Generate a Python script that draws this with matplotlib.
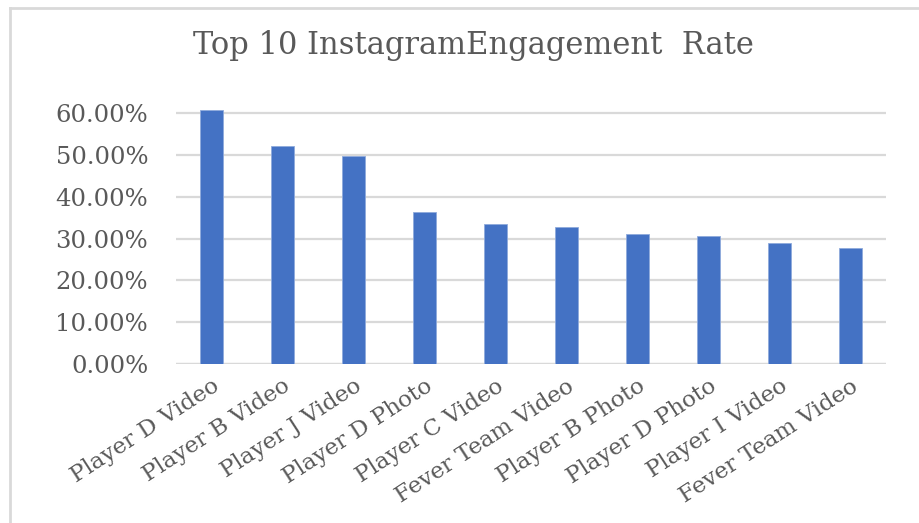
import matplotlib.pyplot as plt
from matplotlib.lines import Line2D
from matplotlib.ticker import PercentFormatter

# Datos
categorias = ['Player D Video', 'Player B Video', 'Player J Video', 'Player D Photo',
              'Player C Video', 'Fever Team Video', 'Player B Photo', 'Player D Photo',
              'Player I Video', 'Fever Team Video']
tasas = [0.608, 0.522, 0.498, 0.365, 0.336, 0.328, 0.311, 0.306, 0.289, 0.278]
ticks_y = [0.0, 0.1, 0.2, 0.3, 0.4, 0.5, 0.6]

gris = '#595959'
plt.rcParams['font.family'] = ['DejaVu Serif']

fig = plt.figure(figsize=(9.2, 5.23), dpi=100)
ax = fig.add_axes([176/920, 1 - 364/523, 710/920, 259/523])

x = list(range(len(categorias)))
ax.bar(x, tasas, width=0.32, color='#4472C4', edgecolor='#8FAADC', linewidth=0.6, zorder=3)

ax.set_xlim(-0.5, len(categorias) - 0.5)
ax.set_ylim(0, 0.62)
ax.set_yticks(ticks_y)
ax.yaxis.set_major_formatter(PercentFormatter(1.0, decimals=2))
ax.grid(axis='y', color='#D9D9D9', linewidth=1.6, zorder=0)
for s in ax.spines.values():
    s.set_visible(False)
ax.axhline(0, color='#D9D9D9', linewidth=1.6, zorder=1)

ax.tick_params(axis='both', length=0, colors=gris)
ax.tick_params(axis='y', labelsize=17.5, pad=20)
ax.set_xticks(x)
ax.set_xticklabels(categorias, rotation=33, ha='right', va='top',
                   rotation_mode='anchor', fontsize=16.5, color=gris)
ax.tick_params(axis='x', pad=8)

fig.text(0.515, 0.913, 'Top 10 InstagramEngagement  Rate', ha='center', va='center',
         fontsize=22, color=gris)

# Borde del gráfico
fig.add_artist(Line2D([10/920, 10/920], [0, 1 - 8/523], color='#D9D9D9', linewidth=2,
                      transform=fig.transFigure))
fig.add_artist(Line2D([10/920, 1], [1 - 8/523, 1 - 8/523], color='#D9D9D9', linewidth=2,
                      transform=fig.transFigure))

plt.savefig('out.png')
